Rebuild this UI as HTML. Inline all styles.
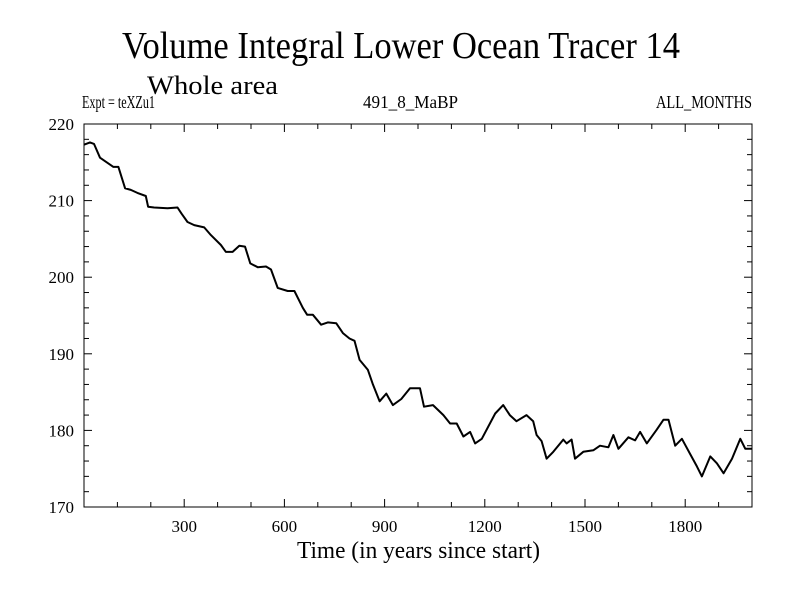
<!DOCTYPE html>
<html><head><meta charset="utf-8"><style>
html,body{margin:0;padding:0;background:#fff;}
svg{display:block;font-family:"Liberation Serif",serif;}
</style></head><body>
<svg id="chart" width="800" height="600" xmlns="http://www.w3.org/2000/svg">
<rect width="800" height="600" fill="#fff"/>
<text x="122" y="58" font-size="38" textLength="558" lengthAdjust="spacingAndGlyphs">Volume Integral Lower Ocean Tracer 14</text>
<text x="147" y="94" font-size="26" textLength="131" lengthAdjust="spacingAndGlyphs">Whole area</text>
<text x="82" y="108" font-size="18" textLength="73" lengthAdjust="spacingAndGlyphs">Expt = teXZu1</text>
<text x="363" y="108" font-size="18" textLength="95" lengthAdjust="spacingAndGlyphs">491_8_MaBP</text>
<text x="656" y="108" font-size="18" textLength="96" lengthAdjust="spacingAndGlyphs">ALL_MONTHS</text>
<g id="axes"></g>
<path id="series" fill="none" stroke="#000" stroke-width="2" stroke-linejoin="round"/>
<rect x="84" y="124" width="668" height="383" fill="none" stroke="#000" stroke-width="1"/>
<text x="297" y="558" font-size="24" textLength="243" lengthAdjust="spacingAndGlyphs">Time (in years since start)</text>
</svg>
<script>
const years = [0,18,30,48,68,88,103,123,140,160,185,192,210,250,280,292,310,330,360,380,410,425,445,465,482,498,520,545,560,580,610,630,655,668,685,710,730,755,775,795,810,825,850,865,885,905,925,950,976,1006,1018,1045,1076,1096,1116,1136,1156,1171,1191,1231,1255,1275,1295,1325,1345,1355,1370,1385,1405,1435,1445,1460,1470,1495,1525,1545,1570,1585,1600,1630,1650,1665,1685,1715,1735,1750,1770,1790,1815,1835,1850,1875,1895,1915,1940,1965,1980,2000];
const values = [217.3,217.6,217.4,215.6,215,214.4,214.4,211.6,211.4,211,210.6,209.2,209.1,209,209.1,208.3,207.2,206.8,206.5,205.5,204.2,203.3,203.3,204.1,204,201.8,201.3,201.4,201,198.6,198.2,198.2,196,195.1,195.1,193.8,194.1,194,192.7,192,191.7,189.2,187.9,186,183.8,184.8,183.3,184.1,185.5,185.5,183.1,183.3,182,180.9,180.9,179.2,179.8,178.3,178.9,182.2,183.3,182,181.2,182,181.2,179.4,178.6,176.3,177.2,178.8,178.3,178.8,176.3,177.2,177.4,178,177.8,179.4,177.6,179.1,178.7,179.8,178.3,180.1,181.4,181.4,178,178.9,176.9,175.3,174,176.6,175.7,174.4,176.3,178.9,177.6,177.6];
const xTicks = [300,600,900,1200,1500,1800];
const yTicks = [170,180,190,200,210,220];

const X0=84,X1=752,Y0=507,Y1=124;
function xs(v){return X0+(v-0)/(2000-0)*(X1-X0);}
function ys(v){return Y0-(v-170)/(220-170)*(Y0-Y1);}
const NS="http://www.w3.org/2000/svg";
const axes=document.getElementById('axes');
function line(x1,y1,x2,y2,name){
  const l=document.createElementNS(NS,'line');
  l.setAttribute('x1',x1);l.setAttribute('y1',y1);l.setAttribute('x2',x2);l.setAttribute('y2',y2);
  l.setAttribute('stroke','#000');l.setAttribute('stroke-width','1');
  
  
  axes.appendChild(l);
}
function text(x,y,s,anchor,name){
  const t=document.createElementNS(NS,'text');
  t.setAttribute('x',x);t.setAttribute('y',y);t.setAttribute('font-size','17');
  t.setAttribute('text-anchor',anchor);t.textContent=s;
  
  
  axes.appendChild(t);
}
for(let v=100;v<2000;v+=100){
  const major=v%300===0, len=major?8:5, x=xs(v);
  line(x,Y0,x,Y0-len,'x-tick');
  line(x,Y1,x,Y1+len,'x-tick-top');
}
xTicks.forEach(v=>text(xs(v),532,String(v),'middle','x-tick-label'));
for(let v=172;v<220;v+=2){
  const major=v%10===0, len=major?8:5, y=ys(v);
  line(X0,y,X0+len,y,'y-tick');
  line(X1,y,X1-len,y,'y-tick-right');
}
yTicks.forEach(v=>text(74,ys(v)+6,String(v),'end','y-tick-label'));
let d='';
years.forEach((yr,i)=>{d+=(i?'L':'M')+xs(yr).toFixed(1)+','+ys(values[i]).toFixed(1);});
document.getElementById('series').setAttribute('d',d);
</script>
</body></html>
